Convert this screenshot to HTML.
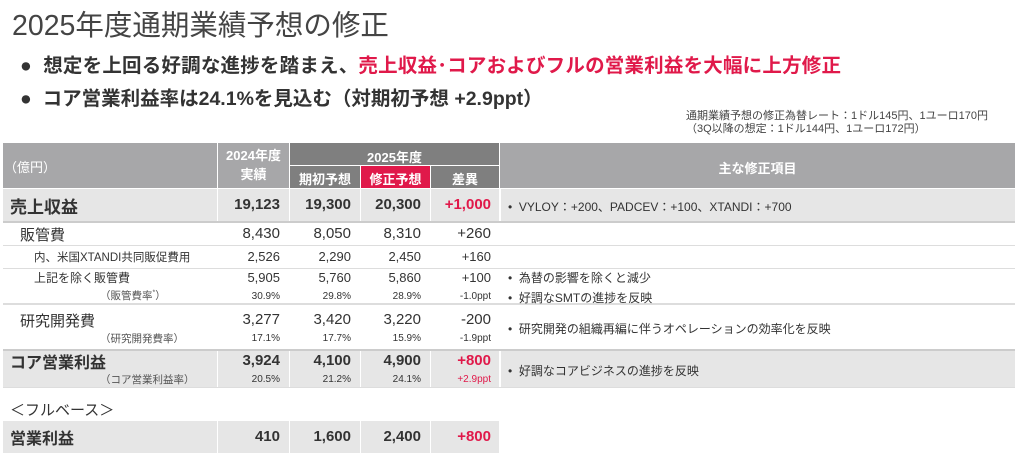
<!DOCTYPE html>
<html><head><meta charset="utf-8"><style>
*{margin:0;padding:0;box-sizing:border-box}
body{width:1024px;height:457px;background:#fff;position:relative;overflow:hidden;font-family:"Liberation Sans","Noto Sans CJK JP",sans-serif;color:#333}
.a{position:absolute;white-space:nowrap}
.r{text-align:right}
.c{text-align:center}
.bx{position:absolute}
.red{color:#e0194a}
.hw{color:#fff;font-weight:bold;font-size:13px}
</style></head><body>
<div class="a" style="left:12px;top:3px;font-size:28.5px;color:#444">2025年度通期業績予想の修正</div>
<div class="a" style="left:20px;top:49px;font-size:19.5px;font-weight:bold;color:#333;letter-spacing:0.2px">●&nbsp; 想定を上回る好調な進捗を踏まえ、<span class="red">売上収益･コアおよびフルの営業利益を大幅に上方修正</span></div>
<div class="a" style="left:20px;top:82px;font-size:19.5px;font-weight:bold;color:#333">●&nbsp; コア営業利益率は24.1%を見込む（対期初予想 +2.9ppt）</div>
<div class="a" style="left:686px;top:110px;font-size:11px;line-height:13px;color:#444">通期業績予想の修正為替レート：1ドル145円、1ユーロ170円<br>（3Q以降の想定：1ドル144円、1ユーロ172円）</div>

<div class="bx" style="left:3px;top:143px;width:214px;height:45px;background:#a7a7a9"></div>
<div class="bx" style="left:218px;top:143px;width:71px;height:45px;background:#a7a7a9"></div>
<div class="bx" style="left:290px;top:143px;width:209px;height:22px;background:#7f7f7f"></div>
<div class="bx" style="left:290px;top:166px;width:70px;height:22px;background:#7f7f7f"></div>
<div class="bx" style="left:361px;top:166px;width:69px;height:22px;background:#e0194a"></div>
<div class="bx" style="left:431px;top:166px;width:68px;height:22px;background:#7f7f7f"></div>
<div class="bx" style="left:500px;top:143px;width:515px;height:45px;background:#a7a7a9"></div>
<div class="a hw" style="left:4px;top:157px;font-weight:normal">（億円）</div>
<div class="a hw c" style="left:218px;top:146px;width:71px;line-height:19px">2024年度<br>実績</div>
<div class="a hw c" style="left:290px;top:147px;width:209px">2025年度</div>
<div class="a hw c" style="left:290px;top:169px;width:70px">期初予想</div>
<div class="a hw c" style="left:361px;top:169px;width:69px">修正予想</div>
<div class="a hw c" style="left:431px;top:169px;width:68px">差異</div>
<div class="a hw c" style="left:500px;top:158px;width:515px">主な修正項目</div>

<div class="bx" style="left:3px;top:189px;width:1012px;height:32px;background:#e6e6e6"></div>
<div class="bx" style="left:3px;top:351px;width:1012px;height:36px;background:#e6e6e6"></div>
<div class="bx" style="left:3px;top:421px;width:496px;height:32px;background:#e6e6e6"></div>
<div class="bx" style="left:217px;top:189px;width:1px;height:32px;background:#fff"></div>
<div class="bx" style="left:289px;top:189px;width:1px;height:32px;background:#fff"></div>
<div class="bx" style="left:360px;top:189px;width:1px;height:32px;background:#fff"></div>
<div class="bx" style="left:430px;top:189px;width:1px;height:32px;background:#fff"></div>
<div class="bx" style="left:499px;top:189px;width:2px;height:32px;background:#fff"></div>
<div class="bx" style="left:217px;top:351px;width:1px;height:36px;background:#fff"></div>
<div class="bx" style="left:289px;top:351px;width:1px;height:36px;background:#fff"></div>
<div class="bx" style="left:360px;top:351px;width:1px;height:36px;background:#fff"></div>
<div class="bx" style="left:430px;top:351px;width:1px;height:36px;background:#fff"></div>
<div class="bx" style="left:499px;top:351px;width:2px;height:36px;background:#fff"></div>
<div class="bx" style="left:217px;top:421px;width:1px;height:32px;background:#fff"></div>
<div class="bx" style="left:289px;top:421px;width:1px;height:32px;background:#fff"></div>
<div class="bx" style="left:360px;top:421px;width:1px;height:32px;background:#fff"></div>
<div class="bx" style="left:430px;top:421px;width:1px;height:32px;background:#fff"></div>
<div class="bx" style="left:3px;top:221px;width:1012px;height:2px;background:#ccc"></div>
<div class="bx" style="left:3px;top:245px;width:1012px;height:1px;background:#ddd"></div>
<div class="bx" style="left:3px;top:268px;width:1012px;height:1px;background:#ddd"></div>
<div class="bx" style="left:3px;top:303px;width:1012px;height:2px;background:#ddd"></div>
<div class="bx" style="left:3px;top:349px;width:1012px;height:2px;background:#ccc"></div>
<div class="bx" style="left:3px;top:387px;width:1012px;height:1px;background:#ddd"></div>

<div class="a" style="left:10px;top:193px;font-size:17px;font-weight:bold">売上収益</div>
<div class="a r" style="left:200px;top:196px;width:80px;font-size:15px;font-weight:bold">19,123</div>
<div class="a r" style="left:270px;top:196px;width:81px;font-size:15px;font-weight:bold">19,300</div>
<div class="a r" style="left:341px;top:196px;width:80px;font-size:15px;font-weight:bold">20,300</div>
<div class="a r red" style="left:410px;top:196px;width:81px;font-size:15px;font-weight:bold">+1,000</div>
<div class="a" style="left:508px;top:198px;font-size:12px">•&nbsp; VYLOY：+200、PADCEV：+100、XTANDI：+700</div>

<div class="a" style="left:20px;top:224px;font-size:15px">販管費</div>
<div class="a r" style="left:200px;top:225px;width:80px;font-size:15px">8,430</div>
<div class="a r" style="left:270px;top:225px;width:81px;font-size:15px">8,050</div>
<div class="a r" style="left:341px;top:225px;width:80px;font-size:15px">8,310</div>
<div class="a r" style="left:410px;top:225px;width:81px;font-size:15px">+260</div>

<div class="a" style="left:34px;top:249px;font-size:11.5px">内、米国XTANDI共同販促費用</div>
<div class="a r" style="left:200px;top:249px;width:80px;font-size:13px">2,526</div>
<div class="a r" style="left:270px;top:249px;width:81px;font-size:13px">2,290</div>
<div class="a r" style="left:341px;top:249px;width:80px;font-size:13px">2,450</div>
<div class="a r" style="left:410px;top:249px;width:81px;font-size:13px">+160</div>

<div class="a" style="left:34px;top:269px;font-size:12px">上記を除く販管費</div>
<div class="a r" style="left:200px;top:270px;width:80px;font-size:13px">5,905</div>
<div class="a r" style="left:270px;top:270px;width:81px;font-size:13px">5,760</div>
<div class="a r" style="left:341px;top:270px;width:80px;font-size:13px">5,860</div>
<div class="a r" style="left:410px;top:270px;width:81px;font-size:13px">+100</div>
<div class="a" style="left:100px;top:288px;font-size:10.5px;color:#555">（販管費率<sup style="font-size:7px">*</sup>）</div>
<div class="a r" style="left:200px;top:291px;width:80px;font-size:10px">30.9%</div>
<div class="a r" style="left:270px;top:291px;width:81px;font-size:10px">29.8%</div>
<div class="a r" style="left:341px;top:291px;width:80px;font-size:10px">28.9%</div>
<div class="a r" style="left:410px;top:291px;width:81px;font-size:10px">-1.0ppt</div>
<div class="a" style="left:508px;top:269px;font-size:12px">•&nbsp; 為替の影響を除くと減少</div>
<div class="a" style="left:508px;top:289px;font-size:12px">•&nbsp; 好調なSMTの進捗を反映</div>

<div class="a" style="left:20px;top:310px;font-size:15px">研究開発費</div>
<div class="a r" style="left:200px;top:311px;width:80px;font-size:15px">3,277</div>
<div class="a r" style="left:270px;top:311px;width:81px;font-size:15px">3,420</div>
<div class="a r" style="left:341px;top:311px;width:80px;font-size:15px">3,220</div>
<div class="a r" style="left:410px;top:311px;width:81px;font-size:15px">-200</div>
<div class="a" style="left:100px;top:331px;font-size:10.5px;color:#555">（研究開発費率）</div>
<div class="a r" style="left:200px;top:333px;width:80px;font-size:10px">17.1%</div>
<div class="a r" style="left:270px;top:333px;width:81px;font-size:10px">17.7%</div>
<div class="a r" style="left:341px;top:333px;width:80px;font-size:10px">15.9%</div>
<div class="a r" style="left:410px;top:333px;width:81px;font-size:10px">-1.9ppt</div>
<div class="a" style="left:508px;top:320px;font-size:12px">•&nbsp; 研究開発の組織再編に伴うオペレーションの効率化を反映</div>

<div class="a" style="left:10px;top:349px;font-size:16px;font-weight:bold">コア営業利益</div>
<div class="a r" style="left:200px;top:352px;width:80px;font-size:15px;font-weight:bold">3,924</div>
<div class="a r" style="left:270px;top:352px;width:81px;font-size:15px;font-weight:bold">4,100</div>
<div class="a r" style="left:341px;top:352px;width:80px;font-size:15px;font-weight:bold">4,900</div>
<div class="a r red" style="left:410px;top:352px;width:81px;font-size:15px;font-weight:bold">+800</div>
<div class="a" style="left:100px;top:372px;font-size:10.5px;color:#555">（コア営業利益率）</div>
<div class="a r" style="left:200px;top:374px;width:80px;font-size:10px">20.5%</div>
<div class="a r" style="left:270px;top:374px;width:81px;font-size:10px">21.2%</div>
<div class="a r" style="left:341px;top:374px;width:80px;font-size:10px">24.1%</div>
<div class="a r red" style="left:410px;top:374px;width:81px;font-size:10px">+2.9ppt</div>
<div class="a" style="left:508px;top:362px;font-size:12px">•&nbsp; 好調なコアビジネスの進捗を反映</div>

<div class="a" style="left:10px;top:399px;font-size:15px">＜フルベース＞</div>
<div class="a" style="left:10px;top:425px;font-size:16px;font-weight:bold">営業利益</div>
<div class="a r" style="left:200px;top:428px;width:80px;font-size:15px;font-weight:bold">410</div>
<div class="a r" style="left:270px;top:428px;width:81px;font-size:15px;font-weight:bold">1,600</div>
<div class="a r" style="left:341px;top:428px;width:80px;font-size:15px;font-weight:bold">2,400</div>
<div class="a r red" style="left:410px;top:428px;width:81px;font-size:15px;font-weight:bold">+800</div>
</body></html>
